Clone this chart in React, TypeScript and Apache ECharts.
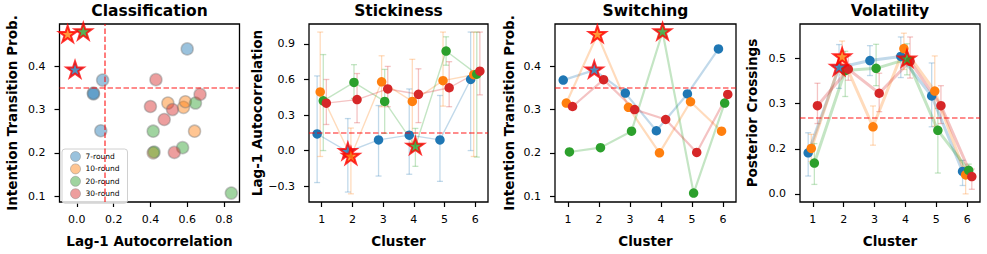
import React, { useEffect, useRef } from 'react';
import * as echarts from 'echarts';

// ---------- data ----------
const ROUNDS = ['7-round', '10-round', '20-round', '30-round'];
const COLORS = ['#1f77b4', '#ff7f0e', '#2ca02c', '#d62728'];
const CLUSTERS = [1, 2, 3, 4, 5, 6];
const OFFSETS = [-0.15, -0.05, 0.05, 0.15];
// 0-based cluster index flagged with a star, per round (-1 = none)
const FLAGGED = [1, 1, 3, -1];

const stickiness7 = [0.14, -0.01, 0.09, 0.13, 0.09, 0.6];
const stickiness10 = [0.495, -0.05, 0.58, 0.415, 0.59, 0.64];
const stickiness20 = [0.42, 0.575, 0.415, 0.035, 0.84, 0.645];
const stickiness30 = [0.4, 0.43, 0.52, 0.475, 0.53, 0.67];

const stickinessLow7 = [-0.27, -0.35, -0.215, -0.2, -0.26, 0.0];
const stickinessHigh7 = [0.63, 0.27, 0.38, 0.52, 0.465, 1.0];
const stickinessLow10 = [-0.05, -0.365, 0.37, 0.07, 0.375, -0.05];
const stickinessHigh10 = [1.0, 0.19, 0.8, 0.77, 1.0, 1.0];
const stickinessLow20 = [0.0, 0.44, 0.145, -0.133, 0.72, -0.055];
const stickinessHigh20 = [0.81, 0.725, 0.685, 0.187, 0.96, 1.0];
const stickinessLow30 = [0.22, 0.235, 0.37, 0.236, 0.37, 0.47];
const stickinessHigh30 = [0.6, 0.65, 0.71, 0.69, 0.75, 1.0];

const switching7 = [0.368, 0.391, 0.338, 0.251, 0.336, 0.44];
const switching10 = [0.315, 0.473, 0.305, 0.2, 0.318, 0.25];
const switching20 = [0.202, 0.212, 0.25, 0.479, 0.107, 0.315];
const switching30 = [0.307, 0.369, 0.3, 0.277, 0.201, 0.335];

const volatility7 = [0.152, 0.467, 0.493, 0.508, 0.362, 0.083];
const volatility10 = [0.168, 0.506, 0.248, 0.537, 0.38, 0.07];
const volatility20 = [0.114, 0.456, 0.464, 0.498, 0.235, 0.087];
const volatility30 = [0.326, 0.461, 0.372, 0.49, 0.326, 0.064];

const volatilityLow7 = [0.066, 0.39, 0.4375, 0.43, 0.248, 0.031];
const volatilityHigh7 = [0.226, 0.552, 0.548, 0.58, 0.484, 0.124];
const volatilityLow10 = [0.12, 0.44, 0.18, 0.46, 0.25, 0.0];
const volatilityHigh10 = [0.22, 0.565, 0.325, 0.594, 0.51, 0.1];
const volatilityLow20 = [0.035, 0.36, 0.4, 0.44, 0.077, 0.06];
const volatilityHigh20 = [0.186, 0.527, 0.553, 0.555, 0.316, 0.11];
const volatilityLow30 = [0.26, 0.42, 0.304, 0.428, 0.26, 0.017];
const volatilityHigh30 = [0.409, 0.51, 0.446, 0.58, 0.4, 0.092];

const STICKINESS_THRESHOLD = 0.15;
const SWITCHING_THRESHOLD = 0.35;
const VOLATILITY_THRESHOLD = 0.2775;

const classificationXTicks = [0, 0.2, 0.4, 0.6, 0.8];
const probTicks = [0.1, 0.2, 0.3, 0.4];
const stickinessTicks = [-0.3, 0, 0.3, 0.6, 0.9];
const volatilityTicks = [0, 1 / 6, 1 / 3, 0.5];

const TITLES = ['Classification', 'Stickiness', 'Switching', 'Volatility'];

// ---------- assembled ----------
const STICKINESS = [stickiness7, stickiness10, stickiness20, stickiness30];
const STICK_LOW = [stickinessLow7, stickinessLow10, stickinessLow20, stickinessLow30];
const STICK_HIGH = [stickinessHigh7, stickinessHigh10, stickinessHigh20, stickinessHigh30];
const SWITCHING = [switching7, switching10, switching20, switching30];
const VOLATILITY = [volatility7, volatility10, volatility20, volatility30];
const VOL_LOW = [volatilityLow7, volatilityLow10, volatilityLow20, volatilityLow30];
const VOL_HIGH = [volatilityHigh7, volatilityHigh10, volatilityHigh20, volatilityHigh30];

const FONT = 'DejaVu Sans';

const rgba = (hex: string, a: number) => {
  const n = parseInt(hex.slice(1), 16);
  return `rgba(${n >> 16},${(n >> 8) & 255},${n & 255},${a})`;
};

const STAR = (() => {
  const pts: string[] = [];
  for (let k = 0; k < 10; k++) {
    const r = k % 2 === 0 ? 1 : 0.382;
    const a = -Math.PI / 2 + (k * Math.PI) / 5;
    pts.push(`${(r * Math.cos(a)).toFixed(4)} ${(r * Math.sin(a)).toFixed(4)}`);
  }
  return 'path://M' + pts.join(' L') + ' Z';
})();

const GRIDS = [
  { left: 59.5, top: 24, width: 180, height: 178 },
  { left: 309, top: 24, width: 179, height: 178 },
  { left: 555, top: 24, width: 181, height: 178 },
  { left: 800, top: 24, width: 180, height: 178 },
];

const fmt1 = (v: number) => v.toFixed(1).replace('-', '\u2212');
const fmtInt = (v: number) => String(Math.round(v));

function xAxis(gridIndex: number, min: number, max: number, ticks: number[], name: string, formatter: any) {
  return {
    type: 'value', gridIndex, min, max, name, nameLocation: 'middle', nameGap: 32,
    nameTextStyle: { fontFamily: FONT, fontWeight: 'bold', fontSize: 13.5, color: '#000' },
    axisLine: { show: false, onZero: false },
    axisTick: { show: true, length: 5, customValues: ticks, lineStyle: { color: '#000', width: 1.2 } },
    axisLabel: { customValues: ticks, formatter, fontFamily: FONT, fontSize: 11, color: '#000', margin: 11.5 },
    splitLine: { show: false },
  };
}

function yAxis(gridIndex: number, min: number, max: number, ticks: number[], name: string, nameGap: number) {
  return {
    type: 'value', gridIndex, min, max, name, nameLocation: 'middle', nameGap,
    nameTextStyle: { fontFamily: FONT, fontWeight: 'bold', fontSize: 13.5, color: '#000' },
    axisLine: { show: false, onZero: false },
    axisTick: { show: true, length: 5, customValues: ticks, lineStyle: { color: '#000', width: 1.2 } },
    axisLabel: { customValues: ticks, formatter: fmt1, fontFamily: FONT, fontSize: 11, color: '#000', margin: 14 },
    splitLine: { show: false },
  };
}

const thresholdLine = (data: any[]) => ({
  silent: true,
  symbol: ['none', 'none'],
  label: { show: false },
  emphasis: { disabled: true },
  lineStyle: { color: 'rgba(255,0,0,0.6)', type: [5.5, 2.5], width: 1.7 },
  data,
});

function errorBarSeries(axis: number, r: number, low: number[][], high: number[][], extra: any = {}) {
  const color = rgba(COLORS[r], 0.28);
  return {
    type: 'custom', name: `${ROUNDS[r]} err ${axis}`,
    xAxisIndex: axis, yAxisIndex: axis, z: 1, silent: true,
    encode: { x: 0, y: [1, 2] },
    data: CLUSTERS.map((c, i) => [c + OFFSETS[r], low[r][i], high[r][i]]),
    renderItem: (_p: any, api: any) => {
      const x = api.value(0);
      const lo = api.coord([x, api.value(1)]);
      const hi = api.coord([x, api.value(2)]);
      const style = { stroke: color, lineWidth: 1.3, fill: null };
      return {
        type: 'group',
        children: [
          { type: 'line', shape: { x1: lo[0], y1: lo[1], x2: hi[0], y2: hi[1] }, style },
          { type: 'line', shape: { x1: lo[0] - 3, y1: lo[1], x2: lo[0] + 3, y2: lo[1] }, style },
          { type: 'line', shape: { x1: hi[0] - 3, y1: hi[1], x2: hi[0] + 3, y2: hi[1] }, style },
        ],
      };
    },
    ...extra,
  };
}

function clusterPanel(axis: number, values: number[][], lineWidth: number, series: any[], markLine?: any) {
  ROUNDS.forEach((name, r) => {
    const pts = CLUSTERS.map((c, i) => [c + OFFSETS[r], values[r][i]]);
    series.push({
      type: 'line', name: `${name} line ${axis}`, xAxisIndex: axis, yAxisIndex: axis, z: 2,
      data: pts, showSymbol: false, silent: true,
      lineStyle: { color: rgba(COLORS[r], 0.28), width: lineWidth },
      ...(markLine && r === 0 ? { markLine } : {}),
    });
  });
  ROUNDS.forEach((name, r) => {
    const pts = CLUSTERS.map((c, i) => i).filter((i) => i !== FLAGGED[r]).map((i) => [CLUSTERS[i] + OFFSETS[r], values[r][i]]);
    series.push({
      type: 'scatter', name: `${name} pts ${axis}`, xAxisIndex: axis, yAxisIndex: axis, z: 3,
      data: pts, symbolSize: 9.5, silent: true,
      itemStyle: { color: COLORS[r], opacity: 1 },
    });
  });
  ROUNDS.forEach((name, r) => {
    if (FLAGGED[r] < 0) return;
    const i = FLAGGED[r];
    series.push({
      type: 'scatter', name: `${name} star ${axis}`, xAxisIndex: axis, yAxisIndex: axis, z: 4,
      data: [[CLUSTERS[i] + OFFSETS[r], values[r][i]]],
      symbol: STAR, symbolKeepAspect: true, symbolSize: 17, symbolOffset: [0, -0.8], silent: true,
      itemStyle: { color: COLORS[r], borderColor: '#ff0000', borderWidth: 2 },
    });
  });
}

function buildOption() {
  const series: any[] = [];

  // Panel 1: classification scatter
  ROUNDS.forEach((name, r) => {
    const pts = CLUSTERS.map((_, i) => i).filter((i) => i !== FLAGGED[r]).map((i) => [STICKINESS[r][i], SWITCHING[r][i]]);
    series.push({
      type: 'scatter', name, xAxisIndex: 0, yAxisIndex: 0, z: 3, silent: true,
      data: pts, symbolSize: 12,
      itemStyle: { color: COLORS[r], opacity: 0.45, borderColor: '#808080', borderWidth: 1.5 },
      ...(r === 0 ? { markLine: thresholdLine([{ yAxis: SWITCHING_THRESHOLD }, { xAxis: STICKINESS_THRESHOLD }]) } : {}),
    });
  });
  ROUNDS.forEach((name, r) => {
    if (FLAGGED[r] < 0) return;
    const i = FLAGGED[r];
    series.push({
      type: 'scatter', name: `${name} star 0`, xAxisIndex: 0, yAxisIndex: 0, z: 4, silent: true,
      data: [[STICKINESS[r][i], SWITCHING[r][i]]],
      symbol: STAR, symbolKeepAspect: true, symbolSize: 17, symbolOffset: [0, -0.8],
      itemStyle: { color: COLORS[r], borderColor: '#ff0000', borderWidth: 2 },
    });
  });

  // Panel 2: stickiness
  ROUNDS.forEach((_, r) => {
    series.push(errorBarSeries(1, r, STICK_LOW, STICK_HIGH,
      r === 0 ? { markLine: thresholdLine([{ yAxis: STICKINESS_THRESHOLD }]) } : {}));
  });
  clusterPanel(1, STICKINESS, 1.4, series);

  // Panel 3: switching
  clusterPanel(2, SWITCHING, 2.2, series, thresholdLine([{ yAxis: SWITCHING_THRESHOLD }]));

  // Panel 4: volatility
  ROUNDS.forEach((_, r) => {
    series.push(errorBarSeries(3, r, VOL_LOW, VOL_HIGH,
      r === 0 ? { markLine: thresholdLine([{ yAxis: VOLATILITY_THRESHOLD }]) } : {}));
  });
  clusterPanel(3, VOLATILITY, 3, series);

  return {
    animation: false,
    backgroundColor: '#fff',
    title: TITLES.map((text, k) => ({
      text,
      left: GRIDS[k].left + GRIDS[k].width / 2,
      top: 3,
      textAlign: 'center',
      padding: 0,
      textStyle: { fontFamily: FONT, fontWeight: 'bold', fontSize: 15.5, color: '#000' },
    })),
    grid: GRIDS.map((g) => ({ ...g, show: true, borderColor: '#000', borderWidth: 1.3, backgroundColor: 'transparent' })),
    legend: {
      left: 62, top: 149, orient: 'vertical', selectedMode: false,
      data: ROUNDS.map((n, r) => ({
        name: n, icon: 'circle',
        itemStyle: { color: COLORS[r], opacity: 0.45, borderColor: '#808080', borderWidth: 1 },
      })),
      itemWidth: 10, itemHeight: 10, itemGap: 1.4,
      padding: [2, 8, 4, 8],
      textStyle: { fontFamily: FONT, fontSize: 7.5, color: '#000' },
      backgroundColor: 'rgba(255,255,255,0.8)', borderColor: '#d0d0d0', borderWidth: 1, borderRadius: 3,
    },
    xAxis: [
      xAxis(0, -0.0945, 0.8845, classificationXTicks, 'Lag-1 Autocorrelation', fmt1),
      xAxis(1, 0.585, 6.415, CLUSTERS, 'Cluster', fmtInt),
      xAxis(2, 0.585, 6.415, CLUSTERS, 'Cluster', fmtInt),
      xAxis(3, 0.585, 6.415, CLUSTERS, 'Cluster', fmtInt),
    ],
    yAxis: [
      yAxis(0, 0.0865, 0.4975, probTicks, 'Intention Transition Prob.', 40.5),
      yAxis(1, -0.434, 1.068, stickinessTicks, 'Lag-1 Autocorrelation', 44),
      yAxis(2, 0.0865, 0.4975, probTicks, 'Intention Transition Prob.', 39.5),
      yAxis(3, -0.03, 0.628, volatilityTicks, 'Posterior Crossings', 41),
    ],
    series,
  };
}

export default function App() {
  const ref = useRef<HTMLDivElement>(null);
  useEffect(() => {
    document.body.style.margin = '0';
    if (!ref.current) return;
    const chart = echarts.init(ref.current, null, { renderer: 'svg' });
    chart.setOption(buildOption() as any);
    return () => chart.dispose();
  }, []);
  return <div ref={ref} style={{ width: 987, height: 254 }} />;
}
